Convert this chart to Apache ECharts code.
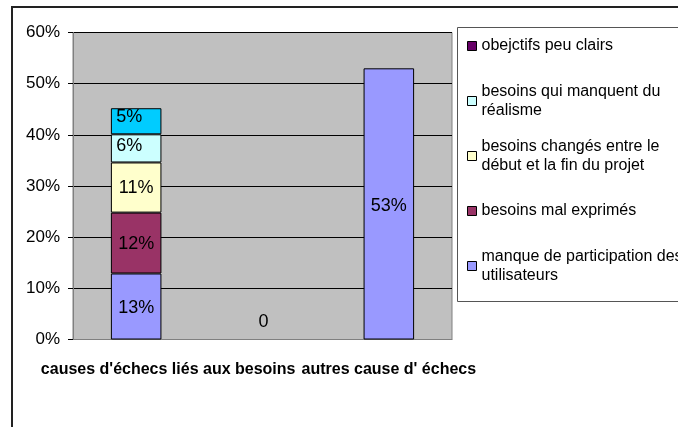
<!DOCTYPE html>
<html>
<head>
<meta charset="utf-8">
<script src="https://cdn.jsdelivr.net/npm/echarts@6/dist/echarts.min.js"></script>
<style>
html,body{margin:0;padding:0;background:#fff;}
#chart{width:678px;height:427px;}
</style>
</head>
<body>
<div id="chart"></div>
<script>
// ---- data ----
const categories = ["causes d'échecs liés aux besoins", "", "autres cause d' échecs"];
const yTicks = [0, 10, 20, 30, 40, 50, 60];

const seriesNames = [
  "manque de participation des utilisateurs",
  "besoins mal exprimés",
  "besoins changés entre le début et la fin du projet",
  "besoins qui manquent du réalisme",
  "obejctifs peu clairs"
];
const legendTexts = [
  "manque de participation des\nutilisateurs",
  "besoins mal exprimés",
  "besoins changés entre le\ndébut et la fin du projet",
  "besoins qui manquent du\nréalisme",
  "obejctifs peu clairs"
];
const barColors = ["#9999FF", "#993366", "#FFFFCC", "#CCFFFF", "#00CCFF"];
const legendColors = ["#9999FF", "#993366", "#FFFFCC", "#CCFFFF", "#660066"];

const manqueValues = [12.9, 0, 53.0];
const malExprimesValues = [11.9, null, null];
const changesValues = [9.8, null, null];
const realismeValues = [5.5, null, null];
const objectifsValues = [5.1, null, null];

const manqueLabels = ["13%", "0", "53%"];
const malExprimesLabels = ["12%", "", ""];
const changesLabels = ["11%", "", ""];
const realismeLabels = ["6%", "", ""];
const objectifsLabels = ["5%", "", ""];

const allValues = [manqueValues, malExprimesValues, changesValues, realismeValues, objectifsValues];
const allLabels = [manqueLabels, malExprimesLabels, changesLabels, realismeLabels, objectifsLabels];

// ---- chart ----
const FONT = "'Liberation Sans', Arial, sans-serif";
const chart = echarts.init(document.getElementById('chart'), null, {renderer: 'canvas'});

const labelOffsets = [[0, 2], [0, 1], [0, 0], [-7, -2], [-7, -4]];

const series = seriesNames.map((name, si) => ({
  name: name,
  type: 'bar',
  stack: 'total',
  barWidth: '40%',
  itemStyle: {color: barColors[si], borderColor: '#000', borderWidth: 1},
  label: {
    show: true,
    position: 'inside',
    offset: labelOffsets[si],
    color: '#000',
    fontSize: 18,
    fontFamily: FONT,
    formatter: p => allLabels[si][p.dataIndex]
  },
  emphasis: {disabled: true},
  data: allValues[si].map((v, i) => {
    if (v === 0) {
      return {
        value: v,
        itemStyle: {color: 'transparent', borderWidth: 0},
        label: {position: 'top', distance: 8, offset: [1, 0]}
      };
    }
    return v;
  })
}));

// one legend component per entry so each marker sits on the first text line
const legendTops = [237.5, 201.5, 127.5, 72.5, 36.5];
const legends = seriesNames.map((name, si) => {
  const twoLines = legendTexts[si].indexOf('\n') >= 0;
  return {
    left: 467,
    top: legendTops[si],
    padding: 0,
    orient: 'vertical',
    icon: 'rect',
    itemWidth: 9,
    itemHeight: 9,
    selectedMode: false,
    itemStyle: {borderColor: '#000', borderWidth: 1},
    textStyle: {
      fontSize: 16,
      fontFamily: FONT,
      color: '#000',
      lineHeight: 19,
      padding: twoLines ? [19, 0, 0, 0] : 0
    },
    formatter: () => legendTexts[si],
    data: [{name: name, itemStyle: {color: legendColors[si], borderColor: '#000', borderWidth: 1}}]
  };
});

chart.setOption({
  animation: false,
  backgroundColor: '#fff',
  graphic: [
    {type: 'rect', shape: {x: 12, y: 7, width: 800, height: 600}, style: {fill: 'none', stroke: '#222', lineWidth: 2}, z: 100},
    {type: 'rect', shape: {x: 457.5, y: 27.5, width: 400, height: 274}, style: {fill: '#fff', stroke: '#555', lineWidth: 1}, z: -1}
  ],
  legend: legends,
  grid: {
    left: 73, right: 226, top: 32.5, bottom: 87.5,
    show: true, backgroundColor: '#C0C0C0', borderColor: '#808080', borderWidth: 1
  },
  xAxis: {
    type: 'category',
    data: categories,
    axisLine: {show: true, lineStyle: {color: '#808080', width: 1}},
    axisTick: {show: false},
    axisLabel: {
      interval: 0,
      margin: 22,
      color: '#000',
      fontSize: 16,
      fontWeight: 'bold',
      fontFamily: FONT,
      formatter: (v, i) => i === 0 ? '{s|' + v + '}' : '{n|' + v + '}',
      rich: {
        s: {fontSize: 16, fontWeight: 'bold', fontFamily: FONT, color: '#000', padding: [0, 0, 0, 64]},
        n: {fontSize: 16, fontWeight: 'bold', fontFamily: FONT, color: '#000'}
      }
    }
  },
  yAxis: {
    type: 'value',
    min: yTicks[0],
    max: yTicks[yTicks.length - 1],
    interval: 10,
    axisLine: {show: true, lineStyle: {color: '#808080', width: 1}},
    axisTick: {show: true, length: 5, lineStyle: {color: '#000'}},
    axisLabel: {margin: 13, color: '#000', fontSize: 17, fontFamily: FONT, formatter: '{value}%'},
    splitLine: {show: true, lineStyle: {color: '#000', width: 1}}
  },
  series: series
});
</script>
</body>
</html>
